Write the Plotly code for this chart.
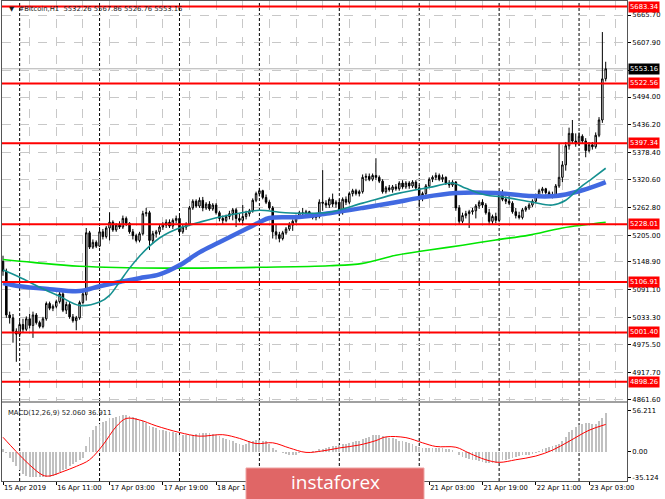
import plotly.graph_objects as go

# ---------------- data ----------------
bar_idx = list(range(182))
opens = [5150,5130,5038,5032,5004,4998,5018,5008,5030,5016,5038,5022,5014,5030,5062,5052,5056,5066,5082,5048,
         5060,5034,5026,5032,5064,5080,5210,5180,5190,5182,5212,5202,5220,5232,5216,5226,5222,5240,5230,5212,
         5204,5194,5208,5250,5252,5194,5208,5212,5222,5226,5232,5224,5236,5240,5212,5222,5228,5262,5276,5266,
         5278,5262,5270,5260,5268,5252,5240,5236,5244,5250,5258,5240,5236,5244,5250,5256,5278,5292,5298,5284,
         5274,5262,5212,5206,5198,5210,5218,5226,5234,5244,5252,5250,5254,5246,5242,5244,5274,5272,5268,5280,
         5270,5274,5252,5280,5274,5292,5298,5292,5296,5326,5328,5322,5330,5326,5318,5296,5304,5300,5306,5302,
         5314,5306,5314,5308,5316,5304,5284,5292,5308,5322,5326,5330,5322,5326,5314,5310,5316,5262,5234,5246,
         5250,5254,5256,5266,5274,5268,5252,5234,5244,5236,5294,5280,5276,5272,5254,5246,5242,5258,5262,5268,
         5276,5288,5298,5302,5294,5288,5290,5308,5326,5352,5392,5418,5402,5396,5412,5402,5382,5394,5390,5414,
         5446,5532.26]
highs = [5162,5135,5045,5040,5010,5025,5030,5035,5040,5045,5042,5026,5034,5066,5066,5060,5070,5088,5086,5066,
         5066,5040,5036,5068,5088,5220,5214,5196,5194,5222,5218,5224,5253,5236,5230,5234,5246,5244,5232,5218,
         5208,5212,5256,5262,5256,5214,5216,5226,5232,5238,5238,5240,5246,5250,5228,5232,5266,5280,5280,5284,
         5285,5274,5276,5272,5272,5256,5246,5248,5256,5262,5262,5250,5268,5256,5260,5282,5296,5304,5300,5290,
         5278,5266,5228,5212,5214,5222,5232,5238,5248,5256,5262,5258,5256,5250,5248,5280,5341,5278,5284,5292,
         5278,5280,5284,5286,5296,5302,5302,5300,5332,5334,5334,5334,5366,5330,5322,5308,5310,5310,5312,5318,
         5320,5318,5318,5320,5320,5310,5296,5312,5326,5330,5336,5334,5332,5328,5320,5320,5318,5268,5252,5256,
         5258,5262,5270,5278,5280,5272,5260,5248,5252,5298,5300,5286,5290,5276,5262,5254,5262,5266,5272,5280,
         5292,5302,5306,5304,5298,5296,5312,5398,5360,5400,5430,5446,5418,5420,5416,5408,5400,5400,5420,5452,
         5630,5567.86]
lows = [5120,5032,5020,4980,4940,4992,5002,5004,5010,4990,5018,5010,5010,5026,5048,5046,5052,5062,5044,5040,
        5030,5022,5006,5028,5060,5068,5176,5176,5178,5180,5196,5198,5194,5212,5212,5218,5218,5224,5208,5196,
        5190,5190,5204,5244,5174,5188,5200,5206,5216,5220,5220,5218,5230,5206,5208,5216,5224,5258,5262,5262,
        5255,5258,5256,5256,5248,5234,5228,5232,5238,5236,5222,5232,5226,5238,5244,5252,5274,5286,5280,5270,
        5258,5198,5196,5190,5194,5206,5214,5214,5230,5240,5242,5244,5244,5238,5236,5240,5256,5262,5262,5264,
        5262,5246,5248,5268,5270,5286,5288,5286,5292,5318,5318,5318,5320,5314,5292,5292,5296,5294,5298,5298,
        5302,5302,5302,5304,5300,5264,5276,5288,5304,5316,5320,5318,5316,5310,5304,5306,5256,5228,5230,5240,
        5220,5248,5240,5260,5262,5248,5226,5228,5230,5232,5276,5270,5268,5250,5240,5238,5238,5254,5258,5264,
        5272,5284,5292,5290,5284,5282,5286,5304,5316,5340,5384,5396,5390,5392,5396,5368,5378,5384,5386,5410,
        5440,5526.76]
closes = [5130,5038,5032,5004,4998,5018,5008,5030,5016,5038,5022,5014,5030,5062,5052,5056,5066,5082,5048,5060,
          5034,5026,5032,5064,5082,5210,5180,5190,5182,5212,5202,5220,5232,5216,5226,5222,5240,5230,5212,5204,
          5194,5208,5250,5252,5194,5208,5212,5222,5226,5232,5224,5236,5240,5212,5222,5228,5262,5276,5266,5278,
          5262,5270,5260,5268,5252,5240,5236,5244,5250,5258,5240,5236,5244,5250,5256,5278,5292,5298,5284,5274,
          5262,5212,5206,5198,5210,5218,5226,5234,5244,5252,5250,5254,5246,5242,5244,5274,5272,5268,5280,5270,
          5274,5252,5280,5274,5292,5298,5292,5296,5326,5328,5322,5330,5326,5318,5296,5304,5300,5306,5302,5314,
          5306,5314,5308,5316,5304,5284,5292,5308,5322,5326,5330,5322,5326,5314,5310,5316,5262,5234,5246,5250,
          5254,5256,5266,5274,5268,5252,5234,5244,5236,5294,5280,5276,5272,5254,5246,5242,5258,5262,5268,5276,
          5288,5298,5302,5294,5288,5290,5308,5326,5352,5392,5418,5402,5396,5412,5402,5382,5394,5390,5414,5446,
          5532,5553.16]

# moving averages (at sample bars)
ma_fast_idx = [0,5,11,17,23,29,32,35,38,41,44,47,50,53,56,59,65,71,77,83,89,98,108,119,129,135,139,145,150,159,165,169,173,177,181]
ma_fast_val = [5132,5117,5096,5077,5058,5065,5079,5107,5136,5161,5182,5199,5211,5220,5226,5232,5243,5251,5257,5253,
               5251,5253,5272,5293,5306,5314,5303,5289,5285,5274,5268,5278,5303,5324,5345]
ma_mid_idx = [0,5,14,23,29,35,41,47,53,59,65,71,77,80,89,98,108,118,125,136,148,158,166,173,178,181]
ma_mid_val = [5105,5098,5092,5088,5098,5107,5115,5123,5142,5169,5190,5211,5232,5241,5243,5251,5262,5274,5283,5293,
              5293,5287,5287,5297,5308,5316]
ma_slow_idx = [0,9,23,49,79,98,108,118,128,138,148,158,168,181]
ma_slow_val = [5154,5148,5140,5136,5138,5141,5146,5163,5174,5184,5195,5205,5220,5232]

# MACD histogram (one per bar) and signal line
macd_hist = [4,-2,-8,-14,-20,-25,-30,-33,-34,-35,-35,-35,-35,-35,-34,-33,-31,-28,-25,-23,
             -20,-17,-14,-11,-8,7,20,30,35,38,40,42,45,46,47,49,50,50,48,47,
             45,43,41,39,35,33,32,30,29,28,27,26,25,23,23,22,23,23,24,25,
             25,25,25,24,23,21,19,17,16,14,12,10,9,11,14,15,16,16,15,14,
             11,5,2,0,-2,-3,-5,-5,-4,-2,-1,0,0,1,1,3,4,5,6,7,
             8,9,10,11,12,13,14,15,17,18,20,22,23,22,21,20,19,18,17,15,
             14,13,12,10,8,6,5,5,5,5,5,5,5,4,3,2,-1,-5,-7,-9,
             -10,-11,-12,-13,-14,-15,-15,-16,-16,-14,-12,-11,-10,-8,-7,-6,-5,-5,-4,-3,
             -2,1,3,5,6,7,9,11,15,20,26,30,34,36,38,39,39,38,38,42,
             46,52.06]
signal_idx = [0,4,8,12,14,18,22,26,30,34,37,41,46,53,59,66,71,76,81,86,91,96,101,107,112,115,121,126,130,136,
              140,145,149,154,160,165,170,176,181]
signal_val = [19.5,0,-18,-32,-33,-27,-20,-11,9,34,45,43,35,26,21,23,18,11,12,5,-1,1,5,9,15,20,19,12,7,6,
              -2,-11,-14.5,-11,-6,2,14,29,36.911]

levels = [5683.34, 5522.56, 5397.34, 5228.01, 5106.91, 5001.40, 4898.26]
last_price = 5553.16

price_ticks = [5665.70, 5607.90, 5550.10, 5494.00, 5436.20, 5378.40, 5320.60, 5262.80, 5205.00, 5148.90,
               5091.10, 5033.30, 4975.50, 4917.70, 4861.60]
price_tick_text = ["5665.70", "5607.90", "", "5494.00", "5436.20", "5378.40", "5320.60", "5262.80", "5205.00",
                   "5148.90", "5091.10", "5033.30", "4975.50", "4917.70", "4861.60"]
macd_ticks = [56.211, 0.0, -35.124]
macd_tick_text = ["56.211", "0.00", "-35.124"]
time_tick_idx = [0, 16, 32, 48, 64, 80, 96, 112, 128, 144, 160, 176]
time_tick_text = ["15 Apr 2019", "16 Apr 11:00", "17 Apr 03:00", "17 Apr 19:00", "18 Apr 11:00", "19 Apr 03:00",
                  "19 Apr 19:00", "20 Apr 11:00", "21 Apr 03:00", "21 Apr 19:00", "22 Apr 11:00", "23 Apr 03:00"]
day_sep_idx = [5, 29, 53, 77, 101, 125, 149, 173]
grid_idx = list(range(8, 188, 8))

# ---------------- figure ----------------
FONT = "DejaVu Sans"
XR = [-0.3, 187.4]
fig = go.Figure()

fig.add_trace(go.Candlestick(
    x=bar_idx, open=opens, high=highs, low=lows, close=closes,
    increasing=dict(line=dict(color="black", width=1), fillcolor="white"),
    decreasing=dict(line=dict(color="black", width=1), fillcolor="black"),
    whiskerwidth=0, xaxis="x", yaxis="y", showlegend=False, hoverinfo="skip"))

fig.add_trace(go.Scatter(x=ma_slow_idx, y=ma_slow_val, mode="lines", line=dict(color="#00E600", width=1.6, shape="spline"),
                         xaxis="x", yaxis="y", showlegend=False))
fig.add_trace(go.Scatter(x=ma_mid_idx, y=ma_mid_val, mode="lines", line=dict(color="#4169E1", width=4.5, shape="spline"),
                         xaxis="x", yaxis="y", showlegend=False))
fig.add_trace(go.Scatter(x=ma_fast_idx, y=ma_fast_val, mode="lines", line=dict(color="#159090", width=1.6, shape="spline"),
                         xaxis="x", yaxis="y", showlegend=False))

fig.add_trace(go.Bar(x=bar_idx, y=macd_hist, marker=dict(color="#C0C0C0", line=dict(width=0)), width=0.55,
                     xaxis="x2", yaxis="y2", showlegend=False))
fig.add_trace(go.Scatter(x=signal_idx, y=signal_val, mode="lines", line=dict(color="#FF0000", width=1, shape="spline"),
                         xaxis="x2", yaxis="y2", showlegend=False))

shapes = []
for d in day_sep_idx:
    shapes.append(dict(type="line", xref="x", yref="paper", x0=d, x1=d, y0=0, y1=1,
                       line=dict(color="#000000", width=1, dash="3px,2px"), layer="below"))
# current price line
shapes.append(dict(type="line", xref="paper", yref="y", x0=0, x1=1, y0=last_price, y1=last_price,
                   line=dict(color="#B0B0B0", width=1), layer="below"))
for lv in levels:
    shapes.append(dict(type="line", xref="paper", yref="y", x0=0, x1=1, y0=lv, y1=lv,
                       line=dict(color="#FF0000", width=2), layer="above"))
# panel separator
shapes.append(dict(type="rect", xref="paper", yref="paper", x0=0, x1=1, y0=0.1627, y1=0.1667,
                   line=dict(width=0), fillcolor="#A0A0A0", layer="above"))
# watermark
shapes.append(dict(type="rect", xref="paper", yref="paper", x0=0.3904, x1=0.6752, y0=-0.04, y1=0.0271,
                   line=dict(color="#EFA3A3", width=1), fillcolor="#E06666", layer="above"))

annotations = []
for lv in levels:
    annotations.append(dict(xref="paper", yref="y", x=1, y=lv, xanchor="left", yanchor="middle",
                            text="%.2f" % lv, showarrow=False, bgcolor="#FF0000", borderpad=1, xshift=1,
                            font=dict(family=FONT, size=6.8, color="white")))
annotations.append(dict(xref="paper", yref="y", x=1, y=last_price, xanchor="left", yanchor="middle",
                        text="%.2f" % last_price, showarrow=False, bgcolor="#000000", borderpad=1, xshift=1,
                        font=dict(family=FONT, size=6.8, color="white")))
annotations.append(dict(xref="paper", yref="paper", x=0.008, y=0.983, xanchor="left", yanchor="middle",
                        text="▼  #Bitcoin,H1  %.2f %.2f %.2f %.2f" % (opens[-1], highs[-1], lows[-1], closes[-1]),
                        showarrow=False, font=dict(family=FONT, size=6.8, color="#1a1a1a")))
annotations.append(dict(xref="paper", yref="paper", x=0.0064, y=0.1417, xanchor="left", yanchor="middle",
                        text="MACD(12,26,9) %.3f %.3f" % (macd_hist[-1], signal_val[-1]),
                        showarrow=False, font=dict(family=FONT, size=6.8, color="#1a1a1a")))
annotations.append(dict(xref="paper", yref="paper", x=0.533, y=-0.003, xanchor="center", yanchor="middle",
                        text="instaforex", showarrow=False, font=dict(family="Open Sans", size=19, color="white")))

axis_font = dict(family=FONT, size=6.8, color="black")
fig.update_layout(
    width=665, height=499,
    margin=dict(l=2, r=38, t=1, b=18, autoexpand=False),
    paper_bgcolor="white", plot_bgcolor="white",
    showlegend=False, bargap=0, boxgap=0.35,
    xaxis=dict(domain=[0, 1], range=XR, anchor="y", showticklabels=False, ticks="",
               tickvals=grid_idx, showgrid=True, gridcolor="#C8C8C8", griddash="dash", gridwidth=1,
               zeroline=False, showline=True, linecolor="#555555", mirror=True, rangeslider=dict(visible=False)),
    xaxis2=dict(domain=[0, 1], range=XR, anchor="y2", tickvals=time_tick_idx, ticktext=time_tick_text,
                ticklabelposition="outside right", ticks="outside", ticklen=3, tickcolor="black", tickangle=0,
                tickfont=axis_font, showgrid=False, zeroline=False, showline=True, linecolor="#555555", mirror=True,
                automargin=False),
    yaxis=dict(domain=[0.1667, 1], range=[4858.0, 5695.0], side="right", anchor="x",
               tickvals=price_ticks, ticktext=price_tick_text, tickfont=axis_font,
               ticks="outside", ticklen=3, tickcolor="black", automargin=False,
               showgrid=True, gridcolor="#C8C8C8", griddash="dash", gridwidth=1,
               zeroline=False, showline=True, linecolor="#555555", mirror=True),
    yaxis2=dict(domain=[0, 0.1627], range=[-39.8, 66.1], side="right", anchor="x2",
                tickvals=macd_ticks, ticktext=macd_tick_text, tickfont=axis_font, automargin=False,
                ticks="outside", ticklen=3, tickcolor="black", showgrid=False,
                zeroline=False, showline=True, linecolor="#555555", mirror=True),
    shapes=shapes, annotations=annotations,
)

fig.write_html("out.html", config={"displayModeBar": False, "staticPlot": True},
               post_script="document.body.style.margin='0';document.body.style.padding='0';")
